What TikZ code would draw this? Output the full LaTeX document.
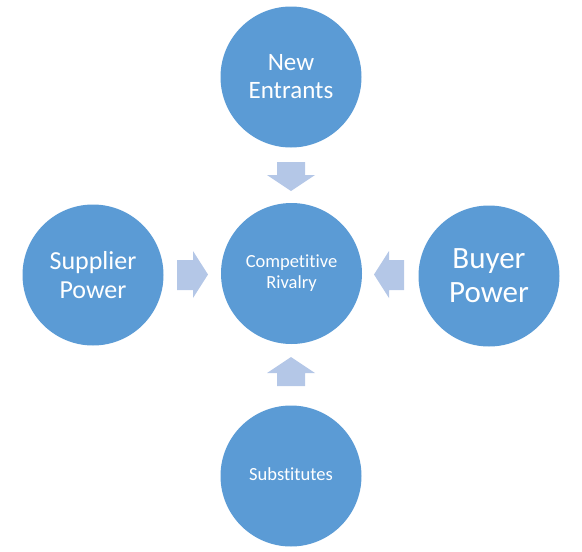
\documentclass[tikz,border=0pt]{standalone}
\usepackage{fontspec}
\setmainfont{Carlito}[Ligatures=NoCommon]
\definecolor{circblue}{HTML}{5B9BD5}
\definecolor{arrblue}{HTML}{B4C7E7}
\begin{document}
\begin{tikzpicture}[x=1pt,y=-1pt,
  force/.style={circle,fill=circblue,minimum size=141pt,inner sep=0pt,text=white,align=center,font=#1},
  blockarrow/.style={fill=arrblue,draw=none}]
\useasboundingbox (0,0) rectangle (582,552);
\node[force={\fontsize{18.5}{21}\selectfont}] (cr) at (291.5,273.5) {Competitive\\Rivalry};
\node[force={\fontsize{25}{28}\selectfont}] (ne) at (291,77) {New\\Entrants};
\node[force={\fontsize{26}{29}\selectfont}] (sp) at (93,275) {Supplier\\Power};
\node[force={\fontsize{31}{34}\selectfont}] (bp) at (489,276) {Buyer\\Power};
\node[force={\fontsize{18.5}{21}\selectfont}] (sub) at (291,476) {\raisebox{4pt}{Substitutes}};
% down arrow (top)
\fill[blockarrow] (277,162) -- (305,162) -- (305,175) -- (315,175) -- (291,191) -- (267,175) -- (277,175) -- cycle;
% right arrow (left)
\fill[blockarrow] (177,260) -- (193,260) -- (193,251) -- (208,274.5) -- (193,298) -- (193,290) -- (177,290) -- cycle;
% left arrow (right)
\fill[blockarrow] (404,260) -- (389,260) -- (389,251) -- (374,274.5) -- (389,298) -- (389,290) -- (404,290) -- cycle;
% up arrow (bottom)
\fill[blockarrow] (277,386) -- (305,386) -- (305,373) -- (315,373) -- (291,357) -- (267,373) -- (277,373) -- cycle;
\end{tikzpicture}
\end{document}
